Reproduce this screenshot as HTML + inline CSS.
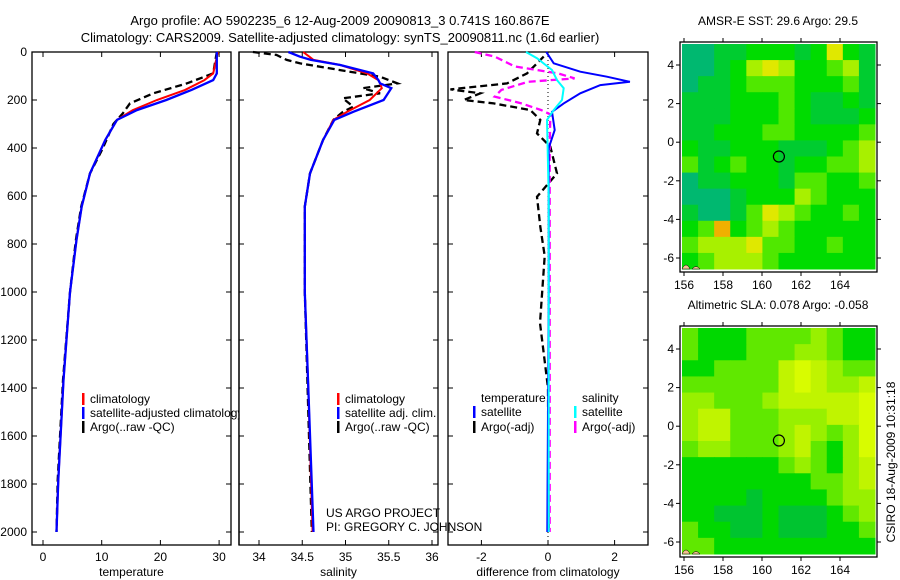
<!DOCTYPE html>
<html><head><meta charset="utf-8"><style>
body{margin:0;background:#fff;width:900px;height:580px;overflow:hidden}
svg{display:block;font-family:"Liberation Sans",sans-serif}
</style></head><body>
<svg id="c" width="900" height="580"></svg>
<script>
// ---- data ----
const tDepth=[0,89,117,158,200,242,283,367,506,644,783,1001,1367,1783,2000];
const tSat=[29.6,29.6,29,25.3,21,16,12.6,10.6,8,6.6,5.7,4.6,3.5,2.6,2.3];
const tClim=[29.8,29,27.5,24.2,19.4,15.3,12.6,10.6,8,6.6,5.7,4.6,3.5,2.6,2.3];
const aTDepth=[0,89,131,172,214,256,300,400,506,644,783,1001,1367,1783,2000];
const aTemp=[29.6,29,24.5,18.8,14.8,13.6,12,10.2,8,6.5,5.6,4.6,3.4,2.5,2.3];
const sDepth=[0,19,33,54,89,117,131,151,200,249,283,367,506,644,1001,1400,2000];
const sSat=[34.34,34.47,34.6,34.94,35.32,35.38,35.4,35.53,35.44,35.09,34.87,34.74,34.59,34.53,34.53,34.57,34.63];
const sClim=[34.51,34.58,34.63,34.94,35.25,35.38,35.4,35.42,35.28,35.02,34.86,34.74,34.59,34.53,34.53,34.57,34.62];
const aSDepth=[0,12,33,47,82,103,131,151,172,193,228,249,283,367,506,644,1001,2000];
const aSal=[33.93,34.2,34.32,34.47,35.05,35.4,35.6,35.2,35.4,34.97,35.09,34.97,34.86,34.74,34.59,34.53,34.53,34.61];
const dDepth=[0,47,82,103,124,138,172,214,249,325,400,1000,2000];
const dTSat=[-0.05,0.17,0.97,1.77,2.46,1.57,0.97,0.47,0.12,0.2,0.02,0.02,-0.02];
const cDepth=[0,26,75,117,151,200,242,283,600,2000];
const dSSat=[-0.66,-0.33,0.12,0.27,0.47,0.42,0.17,-0.03,0.02,0.02];
const aDTDepth=[19,89,131,156,172,200,214,242,283,339,394,506,603,728,850,1129,1400,2000];
const dTArgo=[-0.13,-0.63,-1.23,-2.93,-2.03,-2.53,-1.63,-0.53,-0.23,-0.33,0.07,0.27,-0.33,-0.23,-0.1,-0.24,0,0.02];
const aDSDepth=[0,19,60,89,110,124,158,186,214,242,260,400,2000];
const dSArgo=[-2.2,-1.6,-1.0,0.3,0.8,-0.6,-1.4,-1.6,-0.8,-0.2,0.07,0.05,0.05];
const depthTicks=[0,200,400,600,800,1000,1200,1400,1600,1800,2000];
const tTicks=[0,10,20,30], sTicks=[34,34.5,35,35.5,36], dTicks=[-2,0,2];
const sstGrid=[
[0,0,1,1,2,2,2,1,2,5,2,1],[0,0,1,2,4,5,4,2,2,3,4,1],[0,1,1,2,3,3,3,2,2,2,3,1],[1,1,1,2,2,2,3,2,1,1,2,1],
[1,1,1,2,2,2,3,2,1,1,1,2],[1,1,2,2,2,3,3,2,2,2,2,3],[2,1,1,2,2,2,1,1,1,2,3,4],[3,1,2,3,2,2,1,2,2,3,3,4],
[0,1,1,2,2,2,1,3,3,2,2,3],[0,0,0,1,2,2,2,4,3,2,2,2],[1,0,0,1,3,5,4,3,2,2,3,2],[2,3,6,2,3,4,3,2,2,2,2,2],
[3,4,4,4,5,3,3,2,2,3,2,2],[2,3,4,4,4,3,2,2,2,2,2,2]];
const slaGrid=[
[2,1,1,1,2,2,2,2,3,2,1,1],[2,1,1,1,2,2,2,3,3,2,1,1],[1,1,2,2,2,2,4,5,4,3,2,2],[2,2,2,2,2,2,4,5,4,3,3,4],
[3,3,2,2,2,3,4,4,4,4,4,5],[3,4,4,2,2,2,3,3,3,4,4,5],[3,4,4,2,2,2,3,4,3,2,3,5],[2,3,3,2,2,2,3,4,2,1,3,5],
[1,1,1,1,1,1,2,3,2,1,3,4],[1,1,1,1,1,1,1,1,2,2,3,4],[1,1,1,1,0,1,1,1,1,2,3,3],[1,1,0,0,0,1,0,0,0,1,2,3],
[2,1,1,0,0,1,0,0,0,1,1,2],[2,2,1,1,1,1,1,1,1,1,1,1]];
const latTicks=[4,2,0,-2,-4,-6], lonTicks=[156,158,160,162,164];
const floatLon=160.867, floatLat=-0.741;
// ---- helpers ----
const S=document.getElementById('c'),NS='http://www.w3.org/2000/svg';
function mk(t,a,txt){const e=document.createElementNS(NS,t);for(const k in a)e.setAttribute(k,a[k]);if(txt!=null)e.textContent=txt;S.appendChild(e);return e;}
function T(x,y,s,anchor,size,name){const e=mk('text',{x:x,y:y,'text-anchor':anchor||'start','font-size':size||12},s);

return e;}
const Y=d=>52+d*0.24;
function panel(x0,x1,fx,ticks,fmt,xlabel,name){
 const r=mk('rect',{x:x0,y:52,width:x1-x0,height:493,fill:'none',stroke:'#000','stroke-width':1.3});
 
 
 ticks.forEach(v=>{const x=fx(v);mk('line',{x1:x,x2:x,y1:545,y2:540,stroke:'#000'});mk('line',{x1:x,x2:x,y1:52,y2:57,stroke:'#000'});
  T(x,561,fmt(v),'middle',12,'x-tick-label');});
 depthTicks.forEach(d=>{mk('line',{x1:x0,x2:x0+5,y1:Y(d),y2:Y(d),stroke:'#000'});mk('line',{x1:x1,x2:x1-5,y1:Y(d),y2:Y(d),stroke:'#000'});});
 T((x0+x1)/2,576,xlabel,'middle',12,'x-axis-title');
}
function line(xs,ds,fx,col,w,dash,name){
 const p=xs.map((v,i)=>fx(v).toFixed(1)+','+Y(ds[i]).toFixed(1)).join(' ');
 const e=mk('polyline',{points:p,fill:'none',stroke:col,'stroke-width':w});
 if(dash)e.setAttribute('stroke-dasharray',dash);
 
 
}
const fT=v=>43+v*5.87, fS=v=>259+(v-34)*86.5, fD=v=>548+v*33.3;
// titles
T(340,25,'Argo profile: AO 5902235_6 12-Aug-2009 20090813_3 0.741S 160.867E','middle',13,'chart-title');
T(340,42,'Climatology: CARS2009. Satellite-adjusted climatology: synTS_20090811.nc (1.6d earlier)','middle',13,'chart-subtitle');
// panel 1
panel(32,231,fT,tTicks,v=>v,'temperature','temperature-panel');
depthTicks.forEach(d=>T(27,Y(d)+4,d,'end',12,'y-tick-label'));
line(aTemp,aTDepth,fT,'#000',2.3,'7,4','argo-temperature-line');
line(tClim,tDepth,fT,'#f00',2,null,'climatology-temperature-line');
line(tSat,tDepth,fT,'#00f',2.3,null,'satellite-temperature-line');
// panel 2
panel(239,438,fS,sTicks,v=>v,'salinity','salinity-panel');
line(aSal,aSDepth,fS,'#000',2.3,'7,4','argo-salinity-line');
line(sClim,sDepth,fS,'#f00',2,null,'climatology-salinity-line');
line(sSat,sDepth,fS,'#00f',2.3,null,'satellite-salinity-line');
// panel 3
panel(448,648,fD,dTicks,v=>v,'difference from climatology','difference-panel');
mk('line',{x1:fD(0),x2:fD(0),y1:52,y2:545,stroke:'#000','stroke-dasharray':'1,3'});
line(dTArgo,aDTDepth,fD,'#000',2.3,'7,4','argo-temperature-diff-line');
line(dSArgo,aDSDepth,fD,'#f0f',2.3,'7,4','argo-salinity-diff-line');
line(dTSat,dDepth,fD,'#00f',2,null,'satellite-temperature-diff-line');
line(dSSat,cDepth,fD,'#0ff',2,null,'satellite-salinity-diff-line');
// legends
function leg(x,y,col,txt,name){const r=mk('rect',{x:x,y:y-10,width:2.5,height:12,fill:col});
 
 
 T(x+8,y,txt,'start',12,name);}
leg(82,403,'#f00','climatology','legend-climatology');
leg(82,417,'#00f','satellite-adjusted climatology','legend-satellite');
leg(82,431,'#000','Argo(..raw -QC)','legend-argo');
S.appendChild(mk('rect',{x:239.6,y:390,width:4,height:45,fill:'#fff'}));
mk('line',{x1:239,x2:239,y1:52,y2:545,stroke:'#000','stroke-width':1.3});
leg(337,403,'#f00','climatology','legend-climatology-sal');
leg(337,417,'#00f','satellite adj. clim.','legend-satellite-sal');
leg(337,431,'#000','Argo(..raw -QC)','legend-argo-sal');
T(481,402,'temperature','start',12,'legend-temperature-header');
leg(473,416,'#00f','satellite','legend-temp-satellite');
leg(473,431,'#000','Argo(-adj)','legend-temp-argo');
T(582,402,'salinity','start',12,'legend-salinity-header');
leg(574,416,'#0ff','satellite','legend-sal-satellite');
leg(574,431,'#f0f','Argo(-adj)','legend-sal-argo');
T(326,517,'US ARGO PROJECT','start',12,'project-label');
T(326,531,'PI: GREGORY C. JOHNSON','start',12,'pi-label');
// maps
const sstCols=['#00b870','#00cc30','#00dc00','#50e800','#a8f000','#e0e800','#f0b000'];
const slaCols=['#00c430','#00d800','#60e800','#98f000','#c0f400','#d8fc00'];
function map(top,bot,grid,cols,latAt4,title,name){
 const x0=680,x1=877,dx0=682,dx1=875,dy0=top+2,dy1=bot-3;
 const nr=grid.length,nc=grid[0].length,cw=(dx1-dx0)/nc,ch=(dy1-dy0)/nr;
 grid.forEach((row,i)=>row.forEach((v,j)=>{const r=mk('rect',{x:dx0+j*cw,y:dy0+i*ch,width:cw+0.5,height:ch+0.5,fill:cols[v]});
  
  }));
 const lx=l=>684+(l-156)*19.5, ly=a=>latAt4+(4-a)*19.3;
 mk('path',{d:`M682 ${dy1} q4 -8 8 0 z M692 ${dy1} q4 -5 8 0 z`,fill:'#f4c090',stroke:'#000','stroke-width':0.5});
 const fr=mk('rect',{x:x0,y:top,width:x1-x0,height:bot-top,fill:'none',stroke:'#000','stroke-width':1.3});
 
 
 latTicks.forEach(a=>{const y=ly(a);mk('line',{x1:x0,x2:x0-4,y1:y,y2:y,stroke:'#000'});mk('line',{x1:x1,x2:x1+4,y1:y,y2:y,stroke:'#000'});
  T(674,y+4,a,'end',12,'lat-tick-label');});
 lonTicks.forEach(l=>{const x=lx(l);mk('line',{x1:x,x2:x,y1:bot,y2:bot+4,stroke:'#000'});mk('line',{x1:x,x2:x,y1:top,y2:top-4,stroke:'#000'});
  T(x,bot+17,l,'middle',12,'lon-tick-label');});
 const c=mk('circle',{cx:lx(floatLon),cy:ly(floatLat),r:5.5,fill:'none',stroke:'#000','stroke-width':1.2});
 
 
 T(778,top-17,title,'middle',12,name+'-title');
}
map(42,272,sstGrid,sstCols,65,'AMSR-E SST: 29.6  Argo: 29.5','sst-map');
map(326,557,slaGrid,slaCols,349,'Altimetric SLA: 0.078  Argo: -0.058','sla-map');
const ct=T(0,0,'CSIRO 18-Aug-2009 10:31:18','middle',12,'timestamp-label');
ct.setAttribute('transform','translate(895,462) rotate(-90)');
</script>
</body></html>
